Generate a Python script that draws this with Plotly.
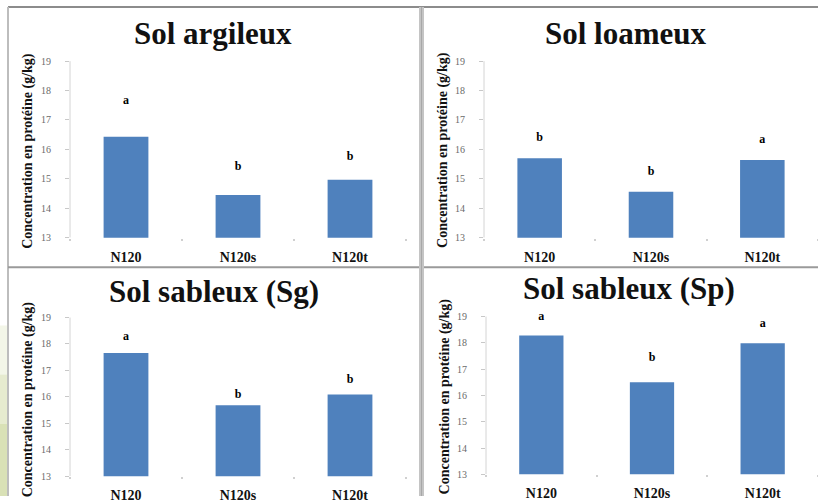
import plotly.graph_objects as go

# Protein concentration (g/kg) by nitrogen treatment, four soil types
treatments = ["N120", "N120s", "N120t"]

soils = ["Sol argileux", "Sol loameux", "Sol sableux (Sg)", "Sol sableux (Sp)"]

argileux = [16.43, 14.45, 14.97]
loameux = [15.70, 14.56, 15.64]
sableux_sg = [17.66, 15.68, 16.09]
sableux_sp = [18.28, 16.50, 17.98]

# significance letters and the height at which each is printed
letters_argileux = ["a", "b", "b"]
letters_loameux = ["b", "b", "a"]
letters_sg = ["a", "b", "b"]
letters_sp = ["a", "b", "a"]

letter_y_argileux = [17.63, 15.40, 15.73]
letter_y_loameux = [16.40, 15.23, 16.33]
letter_y_sg = [18.28, 16.09, 16.64]
letter_y_sp = [19.00, 17.42, 18.73]

y_ticks = [13, 14, 15, 16, 17, 18, 19]
y_title = "Concentration en protéine (g/kg)"

W, H = 818, 503
BAR = "#4F81BD"
SERIF = "Liberation Serif"
Y_MIN, Y_MAX, Y_HEADROOM = 13, 19, 0.5


def fx(p):
    return p / W


def fy(p):
    return 1 - p / H


# pixel frame of each plot area: x from axis to right end, y from 13 to 19
panels = [
    dict(vals=argileux, letters=letters_argileux, ly=letter_y_argileux,
         xdom=(70, 406), ydom=(241, 62), title_xy=(213, 33.5), ytitle_xy=(28, 153)),
    dict(vals=loameux, letters=letters_loameux, ly=letter_y_loameux,
         xdom=(484, 818), ydom=(241, 62), title_xy=(626, 33.5), ytitle_xy=(443, 152)),
    dict(vals=sableux_sg, letters=letters_sg, ly=letter_y_sg,
         xdom=(70, 406), ydom=(483, 322), title_xy=(214, 295.5), ytitle_xy=(28, 405)),
    dict(vals=sableux_sp, letters=letters_sp, ly=letter_y_sp,
         xdom=(486, 818), ydom=(481, 321), title_xy=(629, 292.5), ytitle_xy=(445, 402)),
]

fig = go.Figure()
annotations = []
shapes = []

for i, (soil, p) in enumerate(zip(soils, panels), start=1):
    xa = "x" if i == 1 else f"x{i}"
    ya = "y" if i == 1 else f"y{i}"
    fig.add_trace(go.Bar(
        x=treatments, y=p["vals"], xaxis=xa, yaxis=ya,
        marker=dict(color=BAR, line=dict(width=0)),
        hoverinfo="x+y",
    ))
    fig.add_trace(go.Scatter(
        x=treatments, y=p["ly"], text=p["letters"], mode="text",
        xaxis=xa, yaxis=ya, cliponaxis=False,
        textposition="middle center",
        textfont=dict(family=SERIF, size=12, color="black"),
        texttemplate="<b>%{text}</b>",
        hoverinfo="skip",
    ))

    # extend the plot area a little above 19 so letters there stay drawn
    y_bot, y_top = p["ydom"]
    per_unit = (y_bot - y_top) / (Y_MAX - Y_MIN)
    y_top_ext = y_top - Y_HEADROOM * per_unit

    suffix = "" if i == 1 else str(i)
    fig.layout["xaxis" + suffix] = dict(
        domain=[fx(p["xdom"][0]), fx(p["xdom"][1])],
        anchor=ya, type="category", range=[-0.5, 2.5],
        showline=False, showgrid=False, zeroline=False,
        ticks="outside", tickson="boundaries", ticklen=2,
        tickcolor="#d0d0d0", tickwidth=2,
        ticklabelstandoff=9,
        tickfont=dict(family=SERIF, size=14, color="#111"),
        tickvals=treatments, ticktext=[f"<b>{t}</b>" for t in treatments],
        fixedrange=True,
    )
    fig.layout["yaxis" + suffix] = dict(
        domain=[fy(y_bot), fy(y_top_ext)],
        anchor=xa, range=[Y_MIN, Y_MAX + Y_HEADROOM], tickvals=y_ticks,
        showline=False, showgrid=False, zeroline=False,
        ticks="outside", ticklen=4, tickcolor="#c8c8c8",
        ticklabelstandoff=12,
        tickfont=dict(family=SERIF, size=10, color="#6a6a6a"),
        fixedrange=True,
    )
    # vertical axis line from 13 to 19 only
    shapes.append(dict(
        type="line", xref=f"{xa} domain", yref=ya,
        x0=0, x1=0, y0=Y_MIN, y1=Y_MAX,
        line=dict(color="#d4d4d4", width=1),
    ))

    tx, ty = p["title_xy"]
    annotations.append(dict(
        text=f"<b>{soil}</b>", x=fx(tx), y=fy(ty), xref="paper", yref="paper",
        xanchor="center", yanchor="middle", showarrow=False, borderpad=0,
        font=dict(family=SERIF, size=31, color="#111"),
    ))
    vx, vy = p["ytitle_xy"]
    annotations.append(dict(
        text=f"<b>{y_title}</b>", x=fx(vx), y=fy(vy), xref="paper", yref="paper",
        xanchor="center", yanchor="middle", showarrow=False, textangle=-90,
        font=dict(family=SERIF, size=14, color="#111"),
    ))

# panel frame lines
frame = [
    ((8, 7), (818, 7), "#8c8c8c", 2),
    ((8, 7), (8, 503), "#bdbdbd", 2),
    ((8, 271), (818, 271), "#9a9a9a", 2),
    ((421.5, 7), (421.5, 503), "#c4c4c4", 5),
    ((421.5, 7), (421.5, 503), "#a8a8a8", 1),
]
for (x0, y0), (x1, y1), col, w in frame:
    shapes.append(dict(type="line", xref="paper", yref="paper",
                       x0=fx(x0), x1=fx(x1), y0=fy(y0), y1=fy(y1),
                       line=dict(color=col, width=w)))

# pale green backdrop along the lower left edge
for top, op in [(330, 0.18), (380, 0.25), (430, 0.32)]:
    shapes.append(dict(type="rect", xref="paper", yref="paper",
                       x0=0, x1=fx(7), y0=0, y1=fy(top),
                       fillcolor=f"rgba(190,205,130,{op})", line=dict(width=0),
                       layer="below"))

fig.update_layout(
    width=W, height=H,
    margin=dict(l=0, r=0, t=0, b=0),
    paper_bgcolor="white", plot_bgcolor="white",
    showlegend=False, bargap=0.6,
    annotations=annotations, shapes=shapes,
)

fig.write_html("out.html")
